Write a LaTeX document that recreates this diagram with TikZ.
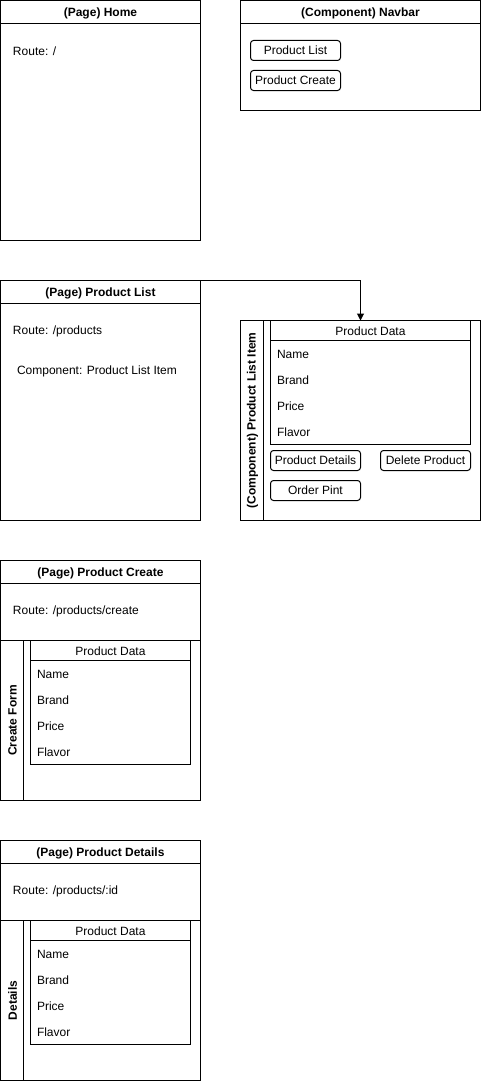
\documentclass[tikz,border=0pt]{standalone}
\usepackage{fontspec}
\setmainfont{Liberation Sans}
\usetikzlibrary{arrows.meta}
\begin{document}
\begin{tikzpicture}[x=1pt,y=-1pt, line width=1pt,
  box/.style={draw, anchor=north west, inner sep=0pt, outer sep=0pt},
  lbl/.style={font=\fontsize{12}{14}\selectfont, inner sep=0pt, anchor=west, yshift=-1pt},
  ctr/.style={font=\fontsize{12}{14}\selectfont, inner sep=0pt, yshift=-1pt},
  ttl/.style={font=\fontsize{12}{14}\selectfont\bfseries, inner sep=0pt, yshift=-1pt},
  vttl/.style={font=\fontsize{12}{14}\selectfont\bfseries, inner sep=0pt, rotate=90},
  btn/.style={draw, rounded corners=3pt, anchor=north west, minimum width=90pt, minimum height=20pt, inner sep=0pt, outer sep=0pt, font=\fontsize{12}{14}\selectfont},
]
\useasboundingbox (-0.5,-0.5) rectangle (480.5,1080.5);

% Home
\node[box, minimum width=200pt, minimum height=240pt] (home) at (0,0) {};
\draw (0,23) -- (200,23);
\node[ttl] (homet) at (100,12) {(Page) Home};
\node[lbl] (homer) at (12,50) {Route: /};

% Navbar
\node[box, minimum width=240pt, minimum height=110pt] (nav) at (240,0) {};
\draw (240,23) -- (480,23);
\node[ttl] (navt) at (360,12) {(Component) Navbar};
\node[btn] (navb1) at (250,40) {Product List};
\node[btn] (navb2) at (250,70) {Product Create};

% Product List page
\node[box, minimum width=200pt, minimum height=240pt] (plist) at (0,280) {};
\draw (0,303) -- (200,303);
\node[ttl] (plistt) at (100,292) {(Page) Product List};
\node[lbl] (plistr) at (12,330) {Route: /products};
\node[lbl] (plistc) at (16,370) {Component: Product List Item};

% Component Product List Item
\node[box, minimum width=240pt, minimum height=200pt] (pli) at (240,320) {};
\draw (263,320) -- (263,520);
\node[vttl] (plit) at (252,420) {(Component) Product List Item};
\node[box, minimum width=200pt, minimum height=124pt] (pdata) at (270,320) {};
\draw (270,340) -- (470,340);
\node[ctr] (pdatat) at (370,330) {Product Data};
\node[lbl] (pd1) at (276,353) {Name};
\node[lbl] (pd2) at (276,379) {Brand};
\node[lbl] (pd3) at (276,405) {Price};
\node[lbl] (pd4) at (276,431) {Flavor};
\node[btn] (btn1) at (270,450) {Product Details};
\node[btn] (btn2) at (380,450) {Delete Product};
\node[btn] (btn3) at (270,480) {Order Pint};

\draw[-{Triangle[length=7pt,width=7pt]}] (plist.north east) -| ([xshift=90pt]pdata.north west);

% Product Create page
\node[box, minimum width=200pt, minimum height=240pt] (pcreate) at (0,560) {};
\draw (0,583) -- (200,583);
\node[ttl] (pcreatet) at (100,572) {(Page) Product Create};
\node[lbl] (pcreater) at (12,610) {Route: /products/create};
\draw (0,640) -- (200,640);
\draw (23,640) -- (23,800);
\node[vttl] (cform) at (12,720) {Create Form};
\node[box, minimum width=160pt, minimum height=124pt] (cdata) at (30,640) {};
\draw (30,660) -- (190,660);
\node[ctr] (cdatat) at (110,650) {Product Data};
\node[lbl] (cd1) at (36,673) {Name};
\node[lbl] (cd2) at (36,699) {Brand};
\node[lbl] (cd3) at (36,725) {Price};
\node[lbl] (cd4) at (36,751) {Flavor};

% Product Details page
\node[box, minimum width=200pt, minimum height=240pt] (pdet) at (0,840) {};
\draw (0,863) -- (200,863);
\node[ttl] (pdett) at (100,852) {(Page) Product Details};
\node[lbl] (pdetr) at (12,890) {Route: /products/:id};
\draw (0,920) -- (200,920);
\draw (23,920) -- (23,1080);
\node[vttl] (dform) at (12,1000) {Details};
\node[box, minimum width=160pt, minimum height=124pt] (ddata) at (30,920) {};
\draw (30,940) -- (190,940);
\node[ctr] (ddatat) at (110,930) {Product Data};
\node[lbl] (dd1) at (36,953) {Name};
\node[lbl] (dd2) at (36,979) {Brand};
\node[lbl] (dd3) at (36,1005) {Price};
\node[lbl] (dd4) at (36,1031) {Flavor};
\end{tikzpicture}
\end{document}
